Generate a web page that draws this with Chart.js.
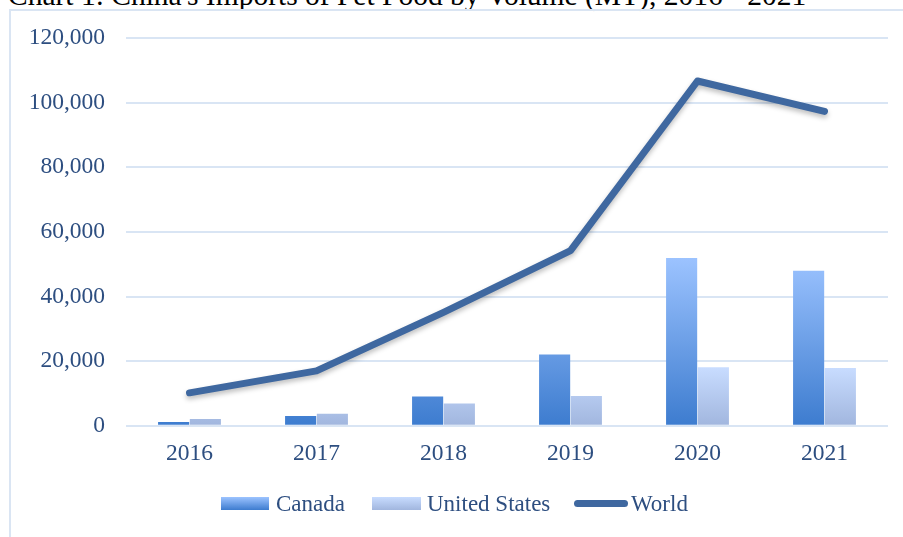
<!DOCTYPE html>
<html>
<head>
<meta charset="utf-8">
<script src="https://cdn.jsdelivr.net/npm/chart.js@4.4.1/dist/chart.umd.min.js"></script>
<style>
  html, body { margin: 0; padding: 0; background: #fff; overflow: hidden; }
  #wrap { position: relative; width: 903px; height: 537px; }
  #title { position: absolute; left: 8px; top: -19px; font-family: "Liberation Serif", serif;
           font-size: 29.5px; line-height: 29.5px; color: #000; white-space: nowrap; }
  #frame { position: absolute; left: 9px; top: 9px; width: 950px; height: 600px;
           border: 2px solid #dae5f3; }
  #holder { position: absolute; left: 0; top: 0; width: 903px; height: 537px; }
  .lg { position: absolute; font-family: "Liberation Serif", serif; font-size: 23px;
        line-height: 23px; color: #2d4e80; white-space: nowrap; top: 492px; }
  .sw { position: absolute; }
</style>
</head>
<body>
<div id="wrap">
  <div id="title">Chart 1: China's Imports of Pet Food by Volume (MT), 2016 - 2021</div>
  <div id="frame"></div>
  <div id="holder"><canvas id="chart"></canvas></div>
  <div class="sw" style="left:221px;top:497px;width:48px;height:13px;background:linear-gradient(#9cc3ff,#3d7ccf);"></div>
  <div class="lg" style="left:276px;">Canada</div>
  <div class="sw" style="left:372px;top:497px;width:49px;height:13px;background:linear-gradient(#c8dcff,#a1b6de);"></div>
  <div class="lg" style="left:427px;">United States</div>
  <div class="sw" style="left:574px;top:500px;width:54px;height:7px;border-radius:4px;background:#3f68a0;"></div>
  <div class="lg" style="left:631px;">World</div>
</div>
<script>
const years = ["2016", "2017", "2018", "2019", "2020", "2021"];
const canada = [1200, 3000, 9100, 22100, 51900, 48000];
const unitedStates = [2100, 3700, 6900, 9200, 18100, 17900];
const world = [10200, 17000, 35100, 54200, 106700, 97300];

const textColor = "#2d4e80";
const serif = "Liberation Serif";

// soft shadow under the world line, like the original
const lineShadow = {
  id: "lineShadow",
  beforeDatasetDraw(chart, args) {
    if (args.meta.type !== "line") return;
    const ctx = chart.ctx;
    ctx.save();
    ctx.shadowColor = "rgba(0,0,0,0.25)";
    ctx.shadowBlur = 5;
    ctx.shadowOffsetY = 3;
  },
  afterDatasetDraw(chart, args) {
    if (args.meta.type !== "line") return;
    chart.ctx.restore();
  }
};

function barFill(topValue, light, dark, fallback) {
  return c => {
    const area = c.chart.chartArea;
    if (!area) return fallback;
    const y0 = c.chart.scales.y.getPixelForValue(topValue);
    const g = c.chart.ctx.createLinearGradient(0, y0, 0, area.bottom);
    g.addColorStop(0, light);
    g.addColorStop(1, dark);
    return g;
  };
}

let chart = new Chart(document.getElementById("chart"), {
  type: "bar",
  data: {
    labels: years,
    datasets: [
      {
        label: "Canada",
        data: canada,
        backgroundColor: barFill(52000, "#9cc3ff", "#3d7ccf", "#6a9de6"),
        categoryPercentage: 0.5,
        barPercentage: 0.98,
        order: 1
      },
      {
        label: "United States",
        data: unitedStates,
        backgroundColor: barFill(18000, "#c8dcff", "#a1b6de", "#b5c9ee"),
        categoryPercentage: 0.5,
        barPercentage: 0.98,
        order: 1
      },
      {
        type: "line",
        label: "World",
        data: world,
        borderColor: "#3f68a0",
        backgroundColor: "#3f68a0",
        borderWidth: 7,
        borderCapStyle: "round",
        borderJoinStyle: "round",
        pointRadius: 0,
        tension: 0,
        fill: false,
        order: 0
      }
    ]
  },
  options: {
    responsive: true,
    maintainAspectRatio: false,
    animation: false,
    layout: { padding: { top: 38, right: 15, bottom: 63, left: 0 } },
    plugins: {
      tooltip: { enabled: false },
      legend: { display: false }
    },
    scales: {
      x: {
        grid: { display: false },
        border: { display: false },
        ticks: { color: textColor, font: { family: serif, size: 23.5 }, padding: 6 }
      },
      y: {
        min: 0,
        max: 120000,
        afterFit: s => { s.width = 126; },
        grid: { color: "#d9e5f4", lineWidth: 2, drawTicks: false },
        border: { display: false },
        ticks: { stepSize: 20000, color: textColor, font: { family: serif, size: 23.5 }, padding: 21 }
      }
    }
  },
  plugins: [lineShadow]
});
</script>
</body>
</html>
